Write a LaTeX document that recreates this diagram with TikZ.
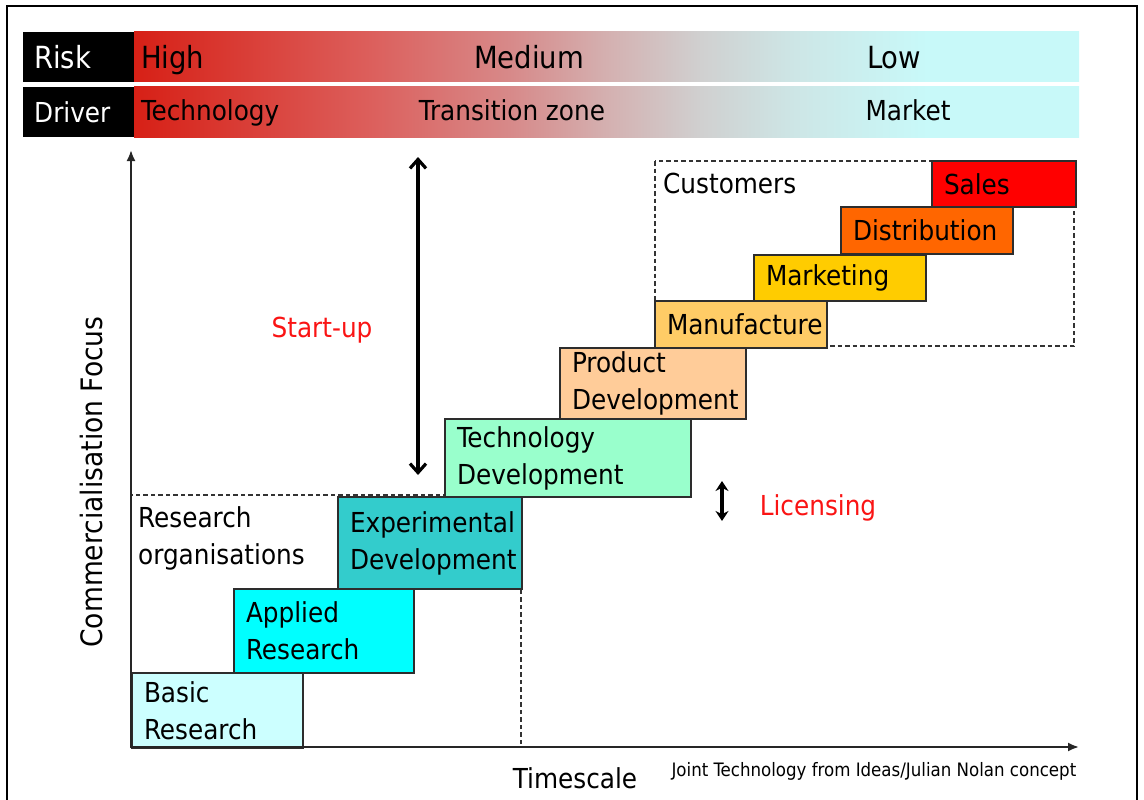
\documentclass[tikz,border=0pt]{standalone}
\usepackage{fontspec}
\setmainfont{DejaVu Sans Condensed}
\usetikzlibrary{arrows.meta}

% stage colours
\definecolor{basicfill}{RGB}{204,255,255}
\definecolor{appliedfill}{RGB}{0,255,255}
\definecolor{expfill}{RGB}{51,204,204}
\definecolor{techfill}{RGB}{153,255,204}
\definecolor{prodfill}{RGB}{255,204,153}
\definecolor{manufill}{RGB}{255,204,102}
\definecolor{markfill}{RGB}{255,204,0}
\definecolor{distfill}{RGB}{255,102,0}
\definecolor{salesfill}{RGB}{255,0,0}
\definecolor{stageline}{RGB}{45,45,45}
\definecolor{notered}{RGB}{250,20,20}

% risk bar colours, red -> grey -> cyan
\definecolor{fadeA}{RGB}{215,32,22}
\definecolor{fadeB}{RGB}{220,95,92}
\definecolor{fadeC}{RGB}{215,138,138}
\definecolor{fadeD}{RGB}{212,176,176}
\definecolor{fadeE}{RGB}{208,208,208}
\definecolor{fadeF}{RGB}{205,230,230}
\definecolor{fadeG}{RGB}{200,249,249}
\pgfdeclarehorizontalshading{riskfade}{100bp}{color(0bp)=(fadeA); color(25bp)=(fadeA);
  color(37.5bp)=(fadeB); color(45bp)=(fadeC); color(50bp)=(fadeD); color(55bp)=(fadeE);
  color(60bp)=(fadeF); color(67bp)=(fadeG); color(75bp)=(fadeG); color(100bp)=(fadeG)}

\newcommand{\stagefont}{\fontsize{27.5pt}{37pt}\selectfont}
\newcommand{\riskfont}{\fontsize{30.5pt}{36pt}\selectfont}
\newcommand{\axisfont}{\fontsize{29.5pt}{36pt}\selectfont}
\newcommand{\creditfont}{\fontsize{18.5pt}{22pt}\selectfont}

\tikzset{
  stage/.style={draw=stageline, line width=2pt, anchor=north west, inner xsep=12pt,
    inner ysep=0pt, align=left, font=\stagefont, minimum height=#1},
  group/.style={draw=black!80, line width=1.3pt, dash pattern=on 4.5pt off 3pt},
  tag/.style={fill=black, text=white, anchor=north west, minimum width=111pt,
    minimum height=50pt, inner xsep=11pt, text width=89pt, align=left},
  axis/.style={line width=2pt, draw=black!85, -{Latex[length=11pt,width=9pt]}},
}

\begin{document}
\begin{tikzpicture}[x=1pt,y=-1pt]
  \useasboundingbox (0,0) rectangle (1144,800);
  \clip (0,0) rectangle (1144,800);
  \draw[line width=1.5pt] (7,6) rectangle (1137,830);

  % risk / driver bars
  \shade[shading=riskfade] (134,32) rectangle (1079,82);
  \shade[shading=riskfade] (134,87) rectangle (1079,137);
  \node[tag, font=\riskfont] (risk) at (23,32) {Risk};
  \node[tag, font=\stagefont] (driver) at (23,87) {Driver};
  \node[font=\riskfont, anchor=base west, inner sep=0pt] (high) at (141,69) {High};
  \node[font=\riskfont, anchor=base, inner sep=0pt] (medium) at (529,69) {Medium};
  \node[font=\riskfont, anchor=base, inner sep=0pt] (low) at (894,69) {Low};
  \node[font=\stagefont, anchor=base west, inner sep=0pt] (technology) at (141,121) {Technology};
  \node[font=\stagefont, anchor=base, inner sep=0pt] (transition) at (512,121) {Transition zone};
  \node[font=\stagefont, anchor=base, inner sep=0pt] (market) at (908,121) {Market};

  % groups
  \draw[group] (131,495) rectangle (521,747);
  \draw[group] (655,161) rectangle (1074,346);
  \node[font=\stagefont, align=left, anchor=west, inner sep=0pt] (researchorg) at (138,538)
    {Research\\organisations};
  \node[font=\stagefont, anchor=west, inner sep=0pt] (customers) at (663,183) {Customers};

  % stages
  \node[stage=75pt, fill=basicfill, text width=147pt] (basic) at (131,672) {Basic\\Research};
  \node[stage=84pt, fill=appliedfill, text width=156pt] (applied) at (233,588) {Applied\\Research};
  \node[stage=92pt, fill=expfill, text width=160pt] (experimental) at (337,496) {Experimental\\Development};
  \node[stage=78pt, fill=techfill, text width=222pt] (techdev) at (444,418) {Technology\\Development};
  \node[stage=71pt, fill=prodfill, text width=162pt] (proddev) at (559,347) {Product\\Development};
  \node[stage=47pt, fill=manufill, text width=148pt] (manufacture) at (654,300) {Manufacture};
  \node[stage=46pt, fill=markfill, text width=148pt] (marketing) at (753,254) {Marketing};
  \node[stage=47pt, fill=distfill, text width=148pt] (distribution) at (840,206) {Distribution};
  \node[stage=46pt, fill=salesfill, text width=120pt] (sales) at (931,160) {Sales};

  % axes
  \coordinate (origin) at (131,747);
  \coordinate (ytop) at (131,150);
  \coordinate (xend) at (1079,747);
  \draw[axis] (origin) -- (ytop);
  \draw[axis] (origin) -- (xend);
  \node[font=\axisfont, rotate=90] (focus) at (92,482) {Commercialisation Focus};
  \node[font=\stagefont] (timescale) at (575,778) {Timescale};
  \node[font=\creditfont] (credit) at (874,771) {Joint Technology from Ideas/Julian Nolan concept};

  % routes to market
  \coordinate (startup top) at (418,157);
  \coordinate (startup bottom) at (418,475);
  \draw[line width=3.2pt, {Straight Barb[length=9pt,width=16pt]}-{Straight Barb[length=9pt,width=16pt]}]
    (startup top) -- (startup bottom);
  \node[font=\stagefont, text=notered] (startup) at (322,330) {Start-up};
  \coordinate (licence top) at (722,481);
  \coordinate (licence bottom) at (722,521);
  \draw[line width=3.5pt, {Stealth[length=10pt,width=13pt]}-{Stealth[length=10pt,width=13pt]}]
    (licence top) -- (licence bottom);
  \node[font=\stagefont, text=notered] (licensing) at (818,508) {Licensing};
\end{tikzpicture}
\end{document}
